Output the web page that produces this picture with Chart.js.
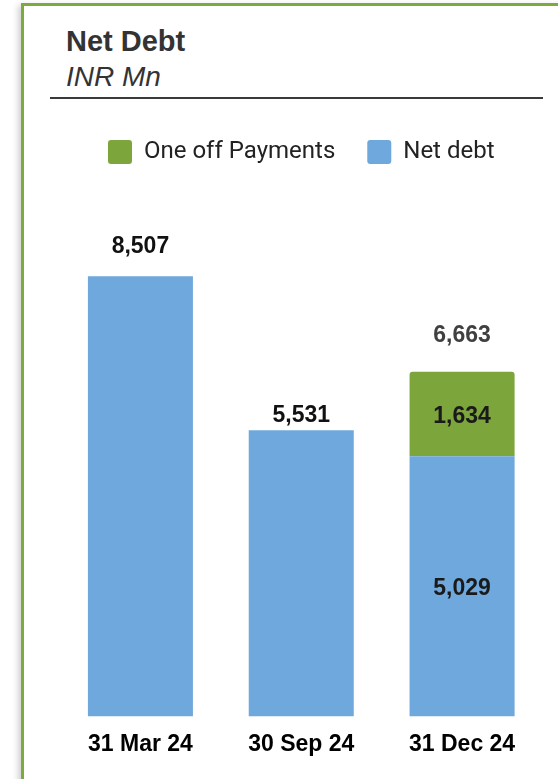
<!DOCTYPE html>
<html lang="en">
<head>
<meta charset="utf-8">
<title>Net Debt</title>
<script src="https://cdn.jsdelivr.net/npm/chart.js@4.4.1/dist/chart.umd.min.js"></script>
<style>
    html, body { margin: 0; padding: 0; background: #fff; }
    body { width: 558px; height: 779px; position: relative; overflow: hidden; font-family: 'Liberation Sans', Arial, sans-serif; }
    .marco { position: absolute; left: 21px; top: 3px; width: 620px; height: 820px; border-left: 3px solid #7dab3b; border-top: 3px solid #7dab3b; box-shadow: -5px 0 6px -2px rgba(0, 0, 0, 0.18); }
    .titulo { position: absolute; left: 66px; top: 27px; font-size: 29px; line-height: 29px; font-weight: bold; color: #333; }
    .subtitulo { position: absolute; left: 66px; top: 63px; font-size: 28px; line-height: 28px; font-style: italic; color: #333; }
    .linea { position: absolute; left: 50px; top: 97px; width: 493px; height: 2px; background: #3a3a3a; }
    #chartDeuda { position: absolute; left: 0; top: 108px; }
</style>
</head>
<body>
<div class="marco"></div>
<div class="titulo">Net Debt</div>
<div class="subtitulo">INR Mn</div>
<div class="linea"></div>
<canvas id="chartDeuda" width="558" height="671"></canvas>
<script>
'use strict';

// ── Datos ─────────────────────────────────────────────────────
const categorias = ['31 Mar 24', '30 Sep 24', '31 Dec 24'];
const deudaNeta = [8507, 5531, 5029];
const pagosUnicos = [0, 0, 1634];

const FUENTE = "'Liberation Sans', Arial, sans-serif";
const AZUL = '#6fa8dc';
const VERDE = '#7ca53b';

function formatear(valor) {
    return valor.toLocaleString('en-US');
}

// Deja aire entre la leyenda y las barras
const espacioLeyenda = {
    id: 'espacioLeyenda',
    beforeInit(chart) {
        const fitOriginal = chart.legend.fit;
        chart.legend.fit = function fit() {
            fitOriginal.bind(chart.legend)();
            this.height += 25;
        };
    }
};

// Totales encima de cada barra y valores dentro de los tramos apilados
const etiquetasValores = {
    id: 'etiquetasValores',
    afterDatasetsDraw(chart, args, opts) {
        const ctx = chart.ctx;
        const metaNeta = chart.getDatasetMeta(0);
        const metaUnicos = chart.getDatasetMeta(1);
        const escalaY = chart.scales.y;

        ctx.save();
        ctx.font = `bold 23px ${FUENTE}`;
        ctx.textAlign = 'center';
        ctx.textBaseline = 'middle';

        categorias.forEach((_, i) => {
            const barra = metaNeta.data[i];
            const extra = pagosUnicos[i] || 0;
            const total = deudaNeta[i] + extra;
            const yTotal = escalaY.getPixelForValue(total);

            ctx.fillStyle = extra > 0 ? '#404040' : '#111';
            ctx.fillText(formatear(total), barra.x, yTotal - opts.separacion[i]);

            if (extra > 0) {
                const tramo = metaUnicos.data[i];
                ctx.fillStyle = '#1a1a1a';
                ctx.fillText(formatear(extra), tramo.x, (tramo.y + tramo.base) / 2 + 3);
                ctx.fillText(formatear(deudaNeta[i]), barra.x, (barra.y + barra.base) / 2 + 2);
            }
        });
        ctx.restore();
    }
};

document.addEventListener('DOMContentLoaded', () => {
    const ctx = document.getElementById('chartDeuda');

    new Chart(ctx.getContext('2d'), {
        type: 'bar',
        data: {
            labels: categorias,
            datasets: [
                {
                    label: 'Net debt',
                    data: deudaNeta,
                    backgroundColor: AZUL,
                    borderWidth: 0,
                    barPercentage: 0.653,
                    categoryPercentage: 1
                },
                {
                    label: 'One off Payments',
                    data: pagosUnicos,
                    backgroundColor: VERDE,
                    borderWidth: 0,
                    borderRadius: { topLeft: 3, topRight: 3, bottomLeft: 0, bottomRight: 0 },
                    borderSkipped: false,
                    barPercentage: 0.653,
                    categoryPercentage: 1
                }
            ]
        },
        options: {
            responsive: false,
            devicePixelRatio: 1,
            animation: false,
            layout: { padding: { left: 60, right: 15.5, top: 0, bottom: 7 } },
            scales: {
                x: {
                    stacked: true,
                    grid: { display: false, drawTicks: false },
                    border: { display: false },
                    ticks: {
                        color: '#000',
                        padding: 14,
                        font: { family: FUENTE, size: 23, weight: 'bold' }
                    }
                },
                y: {
                    stacked: true,
                    display: false,
                    min: 0,
                    max: 10000
                }
            },
            plugins: {
                tooltip: { enabled: false },
                legend: {
                    position: 'top',
                    reverse: true,
                    labels: {
                        color: '#222',
                        boxWidth: 24,
                        boxHeight: 24,
                        padding: 32,
                        useBorderRadius: true,
                        borderRadius: 3,
                        font: { family: "Roboto, 'Liberation Sans', sans-serif", size: 24 }
                    }
                },
                etiquetasValores: { separacion: [30, 15, 36] }
            }
        },
        plugins: [espacioLeyenda, etiquetasValores]
    });
});
</script>
</body>
</html>
